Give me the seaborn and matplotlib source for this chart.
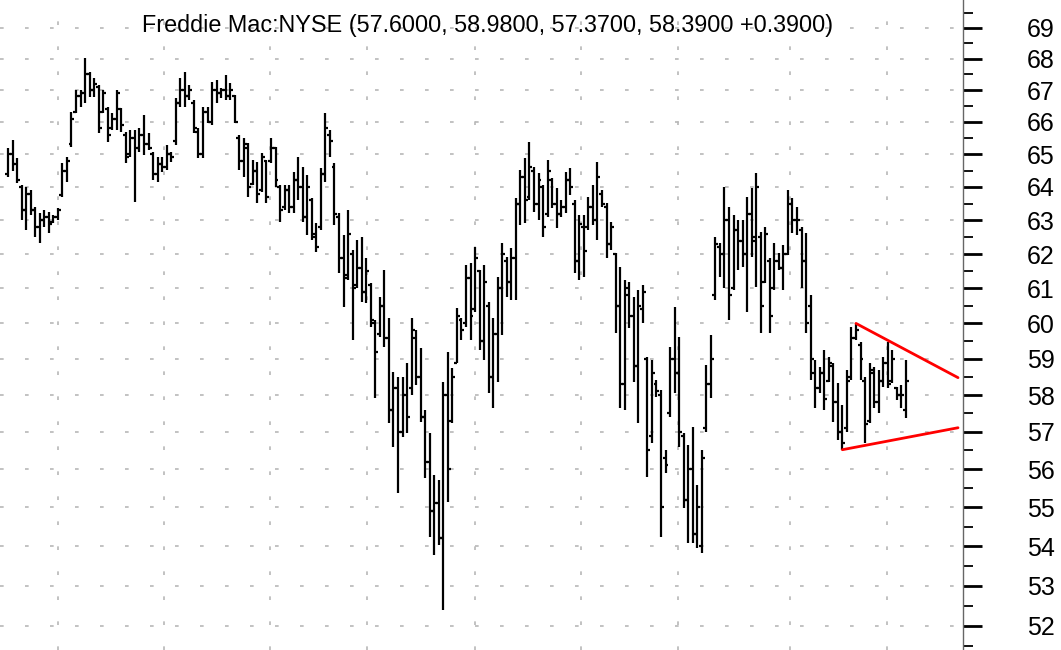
import numpy as np
import matplotlib
matplotlib.use("Agg")
import matplotlib.pyplot as plt
import seaborn as sns
from matplotlib.ticker import FixedLocator, FixedFormatter, NullFormatter

title = "Freddie Mac:NYSE (57.6000, 58.9800, 57.3700, 58.3900 +0.3900)"

highs = [65.2, 65.45, 64.88, 64.05, 64.0, 63.91, 63.4, 63.22, 63.31, 63.25,
         63.16, 63.37, 64.73, 64.91, 66.31, 67.0, 67.0, 68.03, 67.58, 67.39,
         67.17, 67.0, 66.47, 66.28, 67.0, 66.44, 65.69, 65.75, 65.75, 65.81,
         66.22, 65.66, 65.07, 64.91, 64.91, 65.29, 65.07, 66.75, 67.39, 67.58,
         67.17, 66.69, 65.81, 66.47, 66.47, 67.26, 67.33, 67.07, 67.49, 67.23,
         66.85, 65.6, 65.5, 65.35, 64.82, 64.76, 65.04, 64.82, 65.5, 65.22,
         64.06, 64.06, 64.06, 64.46, 64.91, 64.61, 64.37, 63.67, 62.92, 64.58,
         66.28, 65.75, 64.73, 63.22, 62.57, 63.31, 62.12, 62.42, 62.51, 61.89,
         61.16, 60.1, 60.76, 61.54, 60.16, 58.64, 58.5, 58.5, 58.89, 60.16,
         59.82, 59.31, 57.6, 56.97, 55.85, 55.72, 58.36, 59.2, 58.75, 60.44,
         60.16, 61.68, 61.74, 62.21, 61.54, 61.68, 60.61, 60.16, 61.33, 62.33,
         61.92, 62.18, 63.67, 64.52, 64.88, 65.38, 64.61, 64.43, 64.06, 64.82,
         64.27, 63.97, 63.61, 64.46, 64.58, 63.61, 63.16, 63.16, 63.7, 64.06,
         64.76, 63.91, 63.52, 62.95, 62.03, 61.62, 61.25, 61.19, 60.76, 60.96,
         61.1, 59.06, 58.97, 58.42, 58.14, 56.52, 59.34, 60.47, 59.62, 56.97,
         56.65, 57.13, 55.59, 56.52, 58.83, 59.68, 62.51, 62.33, 64.0, 63.4,
         63.16, 63.01, 63.01, 63.7, 63.97, 64.43, 62.65, 62.8, 61.89, 62.33,
         62.03, 62.27, 63.91, 63.67, 63.4, 62.8, 62.62, 60.81, 58.97, 58.78,
         59.25, 59.06, 58.89, 58.33, 57.73, 58.69, 59.9, 60.0, 59.48, 58.5,
         58.89, 58.78, 58.69, 59.06, 59.48, 59.25, 58.22, 58.28, 58.98]

lows = [64.3, 64.5, 64.12, 63.0, 62.71, 63.16, 62.51, 62.33, 62.8, 62.62,
        62.92, 63.0, 63.7, 64.15, 65.22, 66.28, 66.47, 66.6, 66.79, 66.79,
        65.66, 66.28, 65.38, 65.75, 65.75, 65.69, 64.73, 64.91, 63.55, 65.07,
        64.98, 65.13, 64.21, 64.15, 64.46, 64.52, 64.76, 65.29, 66.47, 66.47,
        66.69, 65.66, 64.88, 64.88, 65.97, 65.9, 66.6, 66.75, 66.69, 66.69,
        65.97, 64.52, 64.3, 63.7, 64.06, 63.52, 63.85, 63.52, 64.73, 64.0,
        62.95, 63.31, 63.22, 63.22, 63.61, 62.95, 62.57, 62.42, 62.06, 62.71,
        64.15, 64.91, 62.86, 61.45, 60.47, 61.25, 59.54, 61.01, 60.61, 60.59,
        59.9, 57.92, 59.62, 59.34, 57.24, 56.6, 55.38, 56.86, 56.97, 58.0,
        58.28, 57.27, 55.77, 54.24, 53.78, 54.03, 52.4, 55.14, 57.24, 58.89,
        59.54, 59.9, 59.54, 60.33, 59.25, 58.97, 58.06, 57.65, 58.36, 59.68,
        60.76, 60.67, 60.67, 62.86, 62.92, 63.61, 63.25, 63.01, 62.51, 63.1,
        63.37, 62.77, 63.1, 63.22, 63.76, 61.45, 61.25, 61.33, 62.71, 62.86,
        62.42, 63.4, 61.89, 62.12, 59.73, 57.65, 57.6, 59.87, 58.36, 57.24,
        60.01, 55.8, 56.7, 57.95, 54.24, 55.9, 57.4, 58.06, 56.6, 54.98,
        54.08, 54.08, 53.95, 53.83, 57.0, 57.92, 60.67, 61.33, 61.01, 60.1,
        60.96, 61.54, 61.62, 60.33, 61.92, 61.04, 59.73, 61.16, 59.73, 60.96,
        61.54, 60.96, 61.97, 62.62, 62.57, 61.01, 59.73, 58.42, 57.65, 58.06,
        57.6, 58.36, 57.27, 56.78, 56.52, 57.0, 58.42, 59.54, 58.42, 56.7,
        57.24, 57.65, 57.51, 58.22, 58.19, 58.33, 57.87, 57.65, 57.37]

opens = [64.4, 65.0, 64.7, 64.0, 63.3, 63.8, 63.3, 62.8, 63.0, 63.1,
         62.95, 63.1, 63.75, 64.5, 65.3, 66.3, 66.8, 66.9, 67.5, 67.0,
         67.1, 66.3, 66.4, 65.8, 66.1, 66.4, 65.6, 65.0, 65.5, 65.2,
         65.6, 65.3, 65.0, 64.4, 64.7, 64.6, 65.0, 65.4, 66.6, 67.0,
         66.8, 66.6, 65.7, 65.0, 66.3, 66.0, 67.0, 66.9, 67.0, 66.8,
         66.8, 65.5, 64.8, 65.2, 64.1, 64.5, 63.9, 64.8, 64.8, 65.2,
         64.0, 63.4, 63.9, 63.4, 64.2, 64.0, 63.1, 63.6, 62.5, 62.8,
         64.4, 65.6, 64.6, 63.1, 61.9, 61.4, 62.0, 61.1, 61.6, 60.9,
         61.1, 60.0, 59.7, 60.5, 59.6, 57.6, 58.2, 57.0, 58.0, 58.2,
         59.6, 58.5, 57.4, 56.2, 54.9, 55.1, 54.2, 58.0, 57.3, 58.9,
         60.1, 60.0, 61.3, 60.4, 61.5, 59.5, 60.5, 58.5, 59.7, 61.0,
         61.8, 61.2, 61.9, 63.5, 64.3, 63.7, 64.5, 63.5, 64.0, 63.2,
         64.2, 63.5, 63.2, 63.4, 64.2, 63.5, 61.8, 62.8, 62.8, 63.4,
         63.0, 63.8, 63.4, 62.3, 62.0, 60.5, 58.3, 60.8, 60.2, 58.8,
         60.4, 59.0, 56.9, 58.3, 58.0, 56.3, 57.5, 59.0, 58.6, 56.9,
         55.2, 56.0, 54.3, 54.0, 57.1, 58.3, 60.8, 62.2, 62.0, 63.0,
         61.0, 62.7, 62.4, 62.0, 63.2, 62.5, 62.5, 61.2, 61.8, 61.0,
         61.8, 61.6, 62.0, 63.5, 63.0, 62.7, 61.8, 60.5, 58.6, 58.2,
         58.6, 58.4, 58.8, 57.8, 57.0, 57.1, 58.5, 59.6, 59.4, 58.4,
         57.3, 58.6, 57.8, 58.4, 58.9, 58.4, 58.2, 58.0, 57.6]

closes = [65.0, 64.7, 64.2, 63.3, 63.8, 63.3, 62.8, 63.0, 63.1, 62.9,
          63.1, 63.3, 64.5, 64.8, 66.1, 66.8, 66.9, 67.5, 67.0, 67.2,
          65.8, 66.9, 65.6, 66.1, 66.9, 65.9, 64.9, 65.5, 65.2, 65.6,
          65.3, 65.2, 64.4, 64.7, 64.6, 65.0, 64.9, 66.6, 67.0, 66.8,
          67.0, 65.8, 65.0, 66.3, 66.0, 67.0, 66.9, 67.0, 66.8, 67.0,
          66.0, 64.8, 65.3, 64.0, 64.5, 63.8, 64.9, 63.7, 65.2, 64.2,
          63.3, 63.9, 63.4, 64.2, 64.0, 63.1, 64.0, 62.6, 62.2, 64.4,
          65.8, 65.4, 63.2, 61.9, 61.3, 62.6, 61.0, 61.6, 60.9, 61.5,
          60.1, 59.2, 60.5, 59.6, 57.6, 58.2, 57.0, 58.0, 57.4, 59.8,
          58.5, 57.4, 56.2, 54.9, 55.1, 54.2, 58.0, 56.0, 58.5, 60.2,
          59.8, 61.3, 60.2, 61.9, 59.5, 61.2, 58.5, 59.7, 61.0, 62.0,
          61.2, 61.9, 63.5, 64.3, 63.6, 64.6, 63.5, 64.2, 62.8, 64.5,
          63.5, 63.2, 63.4, 64.2, 64.0, 61.8, 62.9, 62.1, 63.4, 63.0,
          64.3, 63.5, 62.3, 62.8, 60.5, 58.3, 61.0, 60.2, 58.8, 60.5,
          60.9, 56.5, 58.6, 58.1, 55.0, 56.1, 59.0, 58.6, 57.0, 55.2,
          56.0, 54.3, 55.0, 56.3, 58.3, 59.0, 62.3, 62.0, 63.0, 60.8,
          62.7, 62.4, 62.0, 63.2, 62.4, 64.0, 60.5, 62.6, 60.2, 61.8,
          61.6, 62.0, 63.5, 63.0, 63.0, 61.8, 60.0, 59.0, 58.2, 58.6,
          57.9, 58.9, 57.8, 57.0, 56.7, 58.4, 59.6, 59.8, 59.0, 57.2,
          58.7, 57.8, 58.4, 58.9, 58.3, 59.0, 58.0, 58.0, 58.39]

# price axis ticks and monthly grid (bar-index positions)
price_ticks = [52, 53, 54, 55, 56, 57, 58, 59, 60, 61, 62, 63, 64, 65, 66, 67, 68, 69]
price_minor = [51.5, 52.5, 53.5, 54.5, 55.5, 56.5, 57.5, 58.5, 59.5, 60.5,
               61.5, 62.5, 63.5, 64.5, 65.5, 66.5, 67.5, 68.5, 69.5]
month_grid = [11.0, 34.4, 57.8, 79.2, 103.0, 126.4, 147.7, 172.4, 193.8]

# triangle trend lines (bar index, price)
upper_x = [187, 209.5]
upper_y = [60.0, 58.48]
lower_x = [184, 209.5]
lower_y = [56.52, 57.11]

sns.set_style("white")
plt.rcParams['font.family'] = ['Liberation Sans', 'DejaVu Sans']

fig = plt.figure(figsize=(10.61, 6.5), dpi=100)
ax = fig.add_axes([0.0, 0.0, 963 / 1061, 1.0])

x = np.arange(len(highs))
ax.vlines(x, lows, highs, color='black', lw=1.6, zorder=3)
ax.hlines(opens, x - 0.65, x, color='black', lw=1.6, zorder=3)
ax.hlines(closes, x, x + 0.65, color='black', lw=1.6, zorder=3)

sns.lineplot(x=upper_x, y=upper_y, color='#ff0000', lw=2.0, ax=ax, zorder=4)
sns.lineplot(x=lower_x, y=lower_y, color='#ff0000', lw=2.0, ax=ax, zorder=4)

ax.set_yscale('log')
ax.set_ylim(51.41, 69.92)
ax.set_xlim(-1.76, 210.6)

ax.yaxis.set_major_locator(FixedLocator(price_ticks))
ax.yaxis.set_major_formatter(FixedFormatter([str(t) for t in price_ticks]))
ax.yaxis.set_minor_locator(FixedLocator(price_minor))
ax.yaxis.set_minor_formatter(NullFormatter())
ax.yaxis.tick_right()

ax.set_xticks(month_grid)
ax.tick_params(axis='x', which='both', length=0, labelbottom=False, labeltop=False)
ax.tick_params(axis='y', which='major', length=14, width=2.0, color='black',
               pad=32, labelsize=18, labelcolor='black', right=True, left=False)
ax.tick_params(axis='y', which='minor', length=7, width=1.3, color='black',
               right=True, left=False)

grid_style = dict(color='#b8b8b8', lw=1.2, linestyle=(0, (2.2, 12.8)))
ax.grid(axis='y', which='major', **grid_style)
ax.grid(axis='x', which='major', **grid_style)
ax.grid(axis='y', which='minor', visible=False)
ax.set_axisbelow(True)

for side in ['top', 'left', 'bottom']:
    ax.spines[side].set_visible(False)
ax.spines['right'].set_color('#666666')
ax.spines['right'].set_linewidth(1.0)

ax.set_xlabel('')
ax.set_ylabel('')
if ax.get_legend() is not None:
    ax.get_legend().remove()

fig.text(488 / 1061, 1 - 32 / 650, title, ha='center', va='baseline',
         fontsize=16.8, color='black')

fig.savefig('out.png', dpi=100)
